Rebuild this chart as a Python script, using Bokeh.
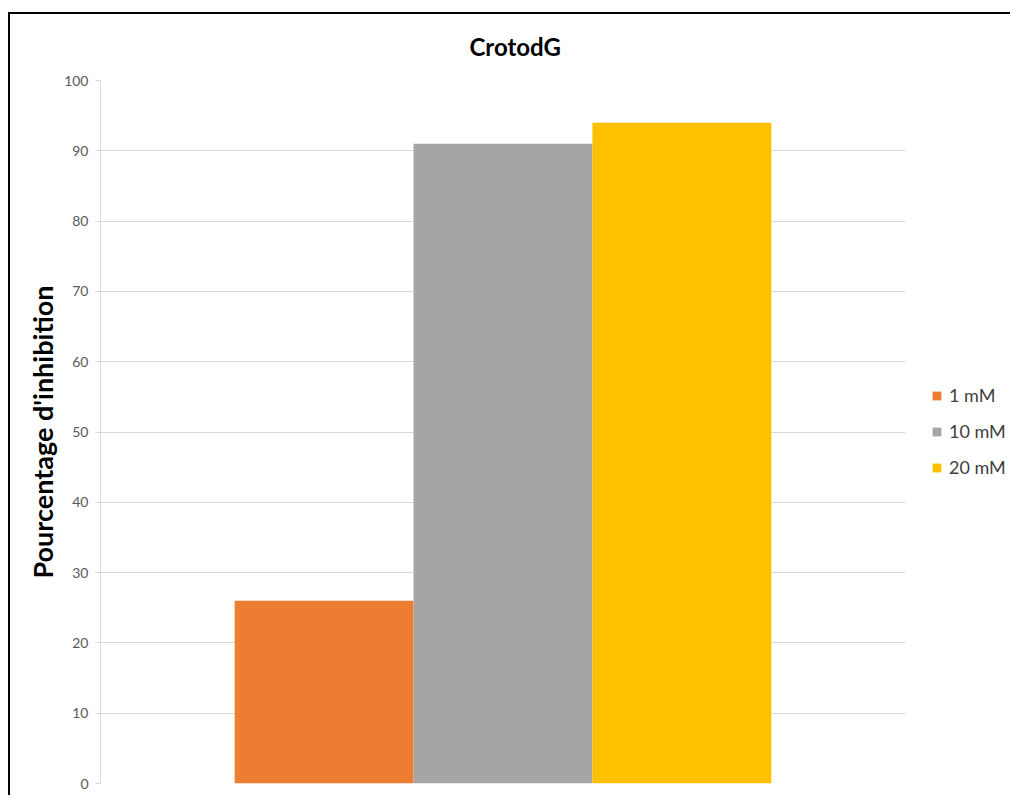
from bokeh.plotting import figure
from bokeh.models import (FactorRange, Range1d, Legend, LegendItem, Title,
                          SingleIntervalTicker)
from bokeh.transform import dodge
from bokeh.embed import file_html
from bokeh.resources import INLINE

# ---- data ----
group = ["CrotodG"]
series = ["1 mM", "10 mM", "20 mM"]
values = [26, 91, 94]
colors = ["#ED7D31", "#A5A5A5", "#FFC000"]

FONT = "Lato"

p = figure(frame_width=805, frame_height=703, output_backend="svg", toolbar_location=None,
           x_range=FactorRange(factors=group, range_padding=0),
           y_range=Range1d(0, 100),
           min_border_left=90, min_border_right=100, min_border_top=66, min_border_bottom=12)
p.margin = (12, 0, 0, 8)
p.styles = {"border-left": "2px solid black", "border-top": "2px solid black"}
p.outline_line_color = None
p.background_fill_color = "white"

offsets = [-2/9, 0, 2/9]
renderers = []
for s, v, c, off in zip(series, values, colors, offsets):
    r = p.vbar(x=dodge("x", off, range=p.x_range), top="top", width=2/9,
               source=dict(x=group, top=[v]), fill_color=c, line_color=None)
    renderers.append((s, r))

p.xaxis.visible = False
p.xgrid.visible = False

p.yaxis.ticker = SingleIntervalTicker(interval=10)
p.yaxis.axis_line_color = "#D9D9D9"
p.yaxis.major_tick_line_color = "#D9D9D9"
p.yaxis.major_tick_out = 5
p.yaxis.major_tick_in = 0
p.yaxis.minor_tick_line_color = None
p.yaxis.major_label_text_font = FONT
p.yaxis.major_label_text_font_size = "14px"
p.yaxis.major_label_text_color = "#595959"
p.yaxis.major_label_standoff = 7
p.yaxis.axis_label = "Pourcentage d'inhibition"
p.yaxis.axis_label_text_font = FONT
p.yaxis.axis_label_text_font_size = "27px"
p.yaxis.axis_label_text_font_style = "bold"
p.yaxis.axis_label_text_color = "black"
p.yaxis.axis_label_standoff = 2

p.ygrid.grid_line_color = "#D9D9D9"
p.ygrid.grid_line_width = 1

t = Title(text="CrotodG", align="left", vertical_align="top", text_font=FONT,
          text_font_size="24px", text_font_style="bold", text_color="black",
          offset=369, standoff=35)
p.add_layout(t, "above")

legend = Legend(items=[LegendItem(label=s, renderers=[r]) for s, r in renderers],
                location=(26, 305), orientation="vertical",
                glyph_width=11, glyph_height=11, label_height=22, spacing=14,
                padding=0, margin=0, border_line_color=None, background_fill_alpha=0,
                label_standoff=7, label_text_font=FONT, label_text_font_size="18px",
                label_text_color="#404040")
p.add_layout(legend, "right")

open("out.html", "w").write(file_html(p, INLINE))
